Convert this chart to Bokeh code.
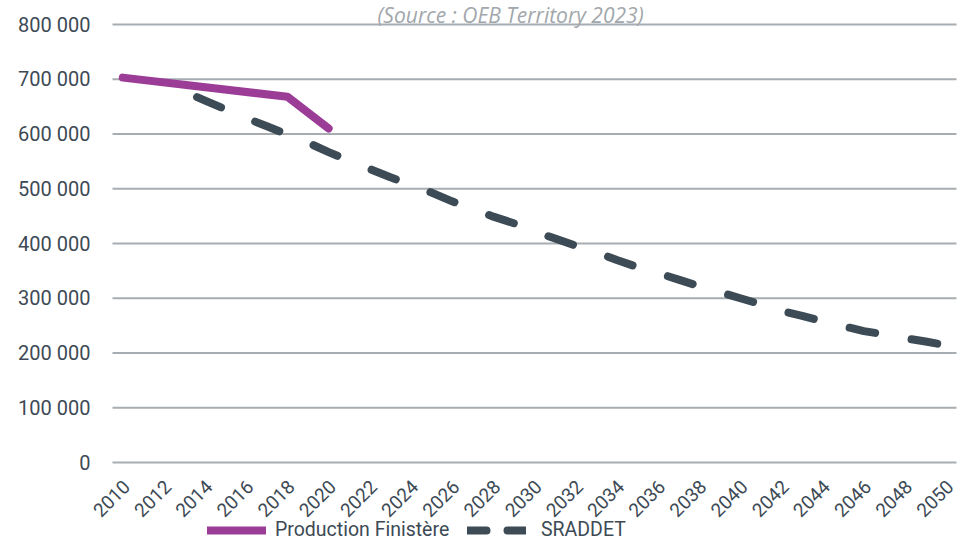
import math
from bokeh.plotting import figure
from bokeh.models import Range1d, FixedTicker, LinearAxis, Legend, LegendItem, Label
from bokeh.embed import file_html
from bokeh.resources import INLINE

# ---------------- data ----------------
title_text = "(Source : OEB Territory 2023)"

prod_label = "Production Finistère"
prod_years = [2010, 2018, 2020]
prod_values = [703000, 668000, 610000]

sraddet_label = "SRADDET"
sraddet_years = [2012, 2013, 2014, 2015, 2016, 2017, 2018, 2019, 2020, 2021,
                 2022, 2023, 2024, 2025, 2026, 2027, 2028, 2029, 2030, 2031,
                 2032, 2033, 2034, 2035, 2036, 2037, 2038, 2039, 2040, 2041,
                 2042, 2043, 2044, 2045, 2046, 2047, 2048, 2049, 2050]
sraddet_values = [693000, 677000, 661000, 645000, 629000, 614000, 599000, 584000, 567000, 551000,
                  536000, 521000, 507000, 493000, 477000, 463000, 449000, 437000, 422000, 409000,
                  396000, 384000, 370000, 357000, 346000, 334000, 322000, 311000, 300000, 289000,
                  277000, 268000, 258000, 249000, 240000, 234000, 227000, 221000, 214000]

x_tick_years = [2010, 2012, 2014, 2016, 2018, 2020, 2022, 2024, 2026, 2028, 2030,
                2032, 2034, 2036, 2038, 2040, 2042, 2044, 2046, 2048, 2050]
x_tick_labels = ["2010", "2012", "2014", "2016", "2018", "2020", "2022", "2024", "2026", "2028", "2030",
                 "2032", "2034", "2036", "2038", "2040", "2042", "2044", "2046", "2048", "2050"]
y_ticks = [0, 100000, 200000, 300000, 400000, 500000, 600000, 700000, 800000]
y_tick_labels = ["0", "100 000", "200 000", "300 000", "400 000", "500 000", "600 000", "700 000", "800 000"]

# ---------------- style / layout ----------------
PURPLE = "#9b3d97"
DARK = "#3c4b56"
TEXT = "#3d4a55"
GRID = "#a8adb1"
TITLE_C = "#a2a7ac"
FONT = "Roboto"

W, H = 960, 540
LEFT, RIGHT = 112, 956          # plot area, px
TOP_800K, BOTTOM_0 = 24, 462     # px positions of the 800 000 and 0 grid lines

X0, X1 = 2009.5, 2050.5          # category edges of the plot area
px_per_year = (RIGHT - LEFT) / (X1 - X0)
units_per_px = 100000 / ((BOTTOM_0 - TOP_800K) / 8)
XR0 = X0 - LEFT / px_per_year
XR1 = X1 + (W - RIGHT) / px_per_year
YR1 = 800000 + TOP_800K * units_per_px
YR0 = -(H - BOTTOM_0) * units_per_px
label_shift = 4 / px_per_year

p = figure(width=W, height=H, output_backend="svg", toolbar_location=None,
           x_range=Range1d(XR0, XR1), y_range=Range1d(YR0, YR1),
           x_axis_location=None, y_axis_location=None,
           min_border_left=0, min_border_right=0, min_border_top=0, min_border_bottom=0)
p.outline_line_color = None
p.background_fill_color = "white"
p.border_fill_color = "white"
p.xgrid.visible = False
p.ygrid.visible = False

# horizontal grid lines over the plot area
p.segment(x0=X0, x1=X1, y0=y_ticks, y1=y_ticks, line_color=GRID, line_width=2)

# y axis at the left edge of the plot area
yax = LinearAxis(fixed_location=X0, ticker=FixedTicker(ticks=y_ticks),
                 major_label_overrides={t: l for t, l in zip(y_ticks, y_tick_labels)},
                 axis_line_color=None, major_tick_line_color=None, minor_tick_line_color=None,
                 major_tick_out=0, major_tick_in=0, major_label_standoff=22,
                 major_label_text_font=FONT, major_label_text_font_size="20px",
                 major_label_text_color=TEXT)
p.add_layout(yax, "left")

# x axis at y = 0 (labels anchored slightly right of the category centres)
p.extra_x_ranges = {"lab": Range1d(XR0 - label_shift, XR1 - label_shift)}
xax = LinearAxis(x_range_name="lab", fixed_location=0, ticker=FixedTicker(ticks=x_tick_years),
                 major_label_overrides={t: l for t, l in zip(x_tick_years, x_tick_labels)},
                 major_label_orientation=math.pi / 4,
                 axis_line_color=None, major_tick_line_color=None, minor_tick_line_color=None,
                 major_tick_out=0, major_tick_in=0, major_label_standoff=21,
                 major_label_text_font=FONT, major_label_text_font_size="19px",
                 major_label_text_color=TEXT)
p.add_layout(xax, "below")

# series
r_s = p.line(sraddet_years, sraddet_values, line_color=DARK, line_width=8,
             line_dash="26 37", line_dash_offset=27, line_cap="round", line_join="round")
r_p = p.line(prod_years, prod_values, line_color=PURPLE, line_width=8,
             line_cap="round", line_join="round")
# legend-only renderer (draws nothing in the plot) with the legend's short dash pattern
r_s_leg = p.line(x=sraddet_years[:1], y=[float("nan")], line_color=DARK, line_width=8,
                 line_dash="19 21", line_cap="round")

common = dict(orientation="horizontal", glyph_height=20, label_height=20, glyph_width=59,
              padding=0, margin=0, spacing=0, border_line_color=None, background_fill_alpha=0,
              label_text_font=FONT, label_text_font_size="19.5px", label_text_color=TEXT,
              label_text_baseline="middle")
leg_y = -1
leg1 = Legend(items=[LegendItem(label=prod_label, renderers=[r_p])], location=(207, leg_y),
              label_standoff=9, **common)
leg2 = Legend(items=[LegendItem(label=sraddet_label, renderers=[r_s_leg])], location=(467, leg_y),
              label_standoff=15, **common)
p.add_layout(leg1)
p.add_layout(leg2)

# title (sits above the top grid line)
p.add_layout(Label(x=X0 + (510 - LEFT) / px_per_year, y=800000 + (TOP_800K - 14) * units_per_px,
                   text=title_text, text_align="center", text_baseline="alphabetic",
                   text_font="Open Sans", text_font_style="italic", text_font_size="21px",
                   text_color=TITLE_C))

open("out.html", "w").write(file_html(p, INLINE))
